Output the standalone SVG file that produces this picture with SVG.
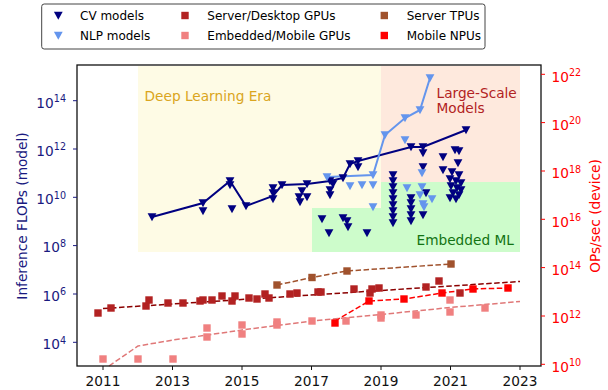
<svg xmlns="http://www.w3.org/2000/svg" xmlns:xlink="http://www.w3.org/1999/xlink" width="608" height="390" viewBox="0 0 608 390">
<style>
text{font-family:"DejaVu Sans","Liberation Sans",sans-serif;}
.tl{font-size:13.7px;}
.sup{font-size:9.6px;}
.lg{font-size:12px;fill:#000;}
.cv{fill:#000080;}
.nlp{fill:#6495ed;}
.sgpu{fill:#b22222;}
.egpu{fill:#f08080;}
.tpu{fill:#a0522d;}
.npu{fill:#ff0000;}
.dash{fill:none;stroke-width:1.5;stroke-dasharray:5.5 2.5;}
</style>
<defs>
<path id="tri" d="M-4.4,-3.8 L4.4,-3.8 L0,4.3 Z"/>
<rect id="sq" x="-3.7" y="-3.7" width="7.4" height="7.4"/>
</defs>
<rect width="608" height="390" fill="#fff"/>
<g id="regions">
<rect x="138" y="66" width="243" height="186" fill="#fefbe5"/>
<rect x="381" y="66" width="139" height="116" fill="#fee9dd"/>
<path d="M312,208 L381,208 L381,182 L520,182 L520,252 L312,252 Z" fill="#cdfccb"/>
<text x="144.5" y="101" class="tl" fill="#daa520">Deep Learning Era</text>
<text x="436.5" y="98" class="tl" fill="#b22222">Large-Scale</text>
<text x="436.5" y="113" class="tl" fill="#b22222">Models</text>
<text x="416.5" y="245" class="tl" fill="#137313">Embedded ML</text>
</g>
<g id="connectors">
<polyline class="dash" stroke="#8b0000" points="103,308.5 520,281.5"/>
<polyline class="dash" stroke="#a0522d" points="277,285 312,277.5 347,271 451,264"/>
<polyline class="dash" stroke="#ff0000" points="335,321 369,301 404,299 442,293 473,289 508,288"/>
<polyline class="dash" stroke="#e07878" points="109,366 138,346 173,340 242,330 312,321 381,314.5 450,307.5 520,301.5"/>
<polyline fill="none" stroke="#000080" stroke-width="2" points="152,217 203,203 230,181 246,206 273,196 282,185 307,184 330,181 343,178 350,164 358,161 411,147 423,147 466,130"/>
<polyline fill="none" stroke="#6495ed" stroke-width="2" points="327,177 373,175 385,135 405,118 420,110 430,78"/>
</g>
<g id="server-gpus" class="sgpu">
<use href="#sq" x="98" y="313"/><use href="#sq" x="111" y="308"/><use href="#sq" x="146" y="306"/><use href="#sq" x="149" y="300"/><use href="#sq" x="168" y="303"/><use href="#sq" x="183" y="303"/><use href="#sq" x="200" y="301"/><use href="#sq" x="203" y="300"/><use href="#sq" x="212" y="300"/><use href="#sq" x="222" y="296"/><use href="#sq" x="232" y="301"/><use href="#sq" x="235" y="296"/><use href="#sq" x="249" y="298"/><use href="#sq" x="257" y="299"/><use href="#sq" x="265" y="294"/><use href="#sq" x="269" y="298"/><use href="#sq" x="290" y="294"/><use href="#sq" x="297" y="293"/><use href="#sq" x="318" y="292"/><use href="#sq" x="321" y="292"/><use href="#sq" x="354" y="289"/><use href="#sq" x="370" y="293"/><use href="#sq" x="372" y="289"/><use href="#sq" x="379" y="288"/><use href="#sq" x="426" y="287"/><use href="#sq" x="439" y="281"/><use href="#sq" x="460" y="293"/>
</g>
<g id="server-tpus" class="tpu">
<use href="#sq" x="277" y="285"/><use href="#sq" x="312" y="277.5"/><use href="#sq" x="347" y="271"/><use href="#sq" x="451" y="264"/>
</g>
<g id="embedded-gpus" class="egpu">
<use href="#sq" x="103" y="359"/><use href="#sq" x="138" y="359"/><use href="#sq" x="173" y="359"/><use href="#sq" x="207" y="328"/><use href="#sq" x="207" y="337"/><use href="#sq" x="242" y="325"/><use href="#sq" x="242" y="334"/><use href="#sq" x="277" y="322"/><use href="#sq" x="277" y="325"/><use href="#sq" x="312" y="321"/><use href="#sq" x="346" y="321"/><use href="#sq" x="381" y="315"/><use href="#sq" x="381" y="318"/><use href="#sq" x="416" y="315"/><use href="#sq" x="450" y="300"/><use href="#sq" x="450" y="312"/><use href="#sq" x="485" y="308"/>
</g>
<g id="mobile-npus" class="npu">
<use href="#sq" x="335" y="323"/><use href="#sq" x="369" y="301"/><use href="#sq" x="404" y="299"/><use href="#sq" x="442" y="293"/><use href="#sq" x="473" y="289"/><use href="#sq" x="508" y="288"/>
</g>
<g id="cv-models" class="cv">
<use href="#tri" x="152" y="217"/><use href="#tri" x="203" y="203"/><use href="#tri" x="203" y="211"/><use href="#tri" x="230" y="181"/><use href="#tri" x="230" y="185"/><use href="#tri" x="232" y="209"/><use href="#tri" x="246" y="206"/><use href="#tri" x="273" y="188"/><use href="#tri" x="273" y="193"/><use href="#tri" x="273" y="199"/><use href="#tri" x="282" y="185"/><use href="#tri" x="299" y="197"/><use href="#tri" x="300" y="202"/><use href="#tri" x="302" y="191"/><use href="#tri" x="307" y="184"/><use href="#tri" x="307" y="197"/><use href="#tri" x="330" y="181"/><use href="#tri" x="330" y="190"/><use href="#tri" x="330" y="195"/><use href="#tri" x="333" y="184"/><use href="#tri" x="343" y="178"/><use href="#tri" x="350" y="164"/><use href="#tri" x="358" y="161"/><use href="#tri" x="358" y="167"/><use href="#tri" x="322" y="219"/><use href="#tri" x="329" y="233"/><use href="#tri" x="343" y="218"/><use href="#tri" x="347" y="221"/><use href="#tri" x="348" y="227"/><use href="#tri" x="367" y="233"/><use href="#tri" x="411" y="147"/><use href="#tri" x="423" y="147"/><use href="#tri" x="423" y="153"/><use href="#tri" x="423" y="167"/><use href="#tri" x="426" y="193"/><use href="#tri" x="423" y="215"/><use href="#tri" x="466" y="130"/>
<use href="#tri" x="393" y="175"/><use href="#tri" x="393" y="181"/><use href="#tri" x="393" y="187"/><use href="#tri" x="393" y="193"/><use href="#tri" x="393" y="199"/><use href="#tri" x="393" y="205"/><use href="#tri" x="393" y="211"/><use href="#tri" x="393" y="217"/><use href="#tri" x="393" y="223"/>
<use href="#tri" x="411" y="198"/><use href="#tri" x="411" y="203"/><use href="#tri" x="411" y="209"/><use href="#tri" x="411" y="215"/><use href="#tri" x="411" y="221"/>
<use href="#tri" x="443" y="157"/><use href="#tri" x="455" y="150"/><use href="#tri" x="459" y="151"/><use href="#tri" x="443" y="170"/><use href="#tri" x="458" y="163"/><use href="#tri" x="452" y="172"/><use href="#tri" x="459" y="175"/><use href="#tri" x="450" y="179"/><use href="#tri" x="456" y="181"/><use href="#tri" x="461" y="183"/><use href="#tri" x="451" y="186"/><use href="#tri" x="457" y="188"/><use href="#tri" x="461" y="190"/><use href="#tri" x="453" y="193"/><use href="#tri" x="459" y="195"/><use href="#tri" x="450" y="198"/><use href="#tri" x="456" y="199"/>
</g>
<g id="nlp-models" class="nlp">
<use href="#tri" x="327" y="177"/><use href="#tri" x="373" y="175"/><use href="#tri" x="385" y="135"/><use href="#tri" x="405" y="118"/><use href="#tri" x="420" y="110"/><use href="#tri" x="430" y="78"/><use href="#tri" x="350" y="186"/><use href="#tri" x="362" y="185"/><use href="#tri" x="373" y="185"/><use href="#tri" x="373" y="207"/><use href="#tri" x="405" y="140"/><use href="#tri" x="407" y="188"/><use href="#tri" x="422" y="173"/><use href="#tri" x="422" y="187"/><use href="#tri" x="420" y="195"/><use href="#tri" x="432" y="199"/><use href="#tri" x="423" y="204"/><use href="#tri" x="424" y="207"/>
</g>
<g id="axes">
<rect x="77" y="65" width="464" height="301" fill="none" stroke="#111" stroke-width="1.3"/>
<g stroke="#111" stroke-width="1">
<line x1="103" y1="366" x2="103" y2="370"/><line x1="172.5" y1="366" x2="172.5" y2="370"/><line x1="242" y1="366" x2="242" y2="370"/><line x1="311.5" y1="366" x2="311.5" y2="370"/><line x1="381" y1="366" x2="381" y2="370"/><line x1="450.5" y1="366" x2="450.5" y2="370"/><line x1="520" y1="366" x2="520" y2="370"/>
</g>
<g class="tl" fill="#111" text-anchor="middle">
<text x="103" y="386">2011</text><text x="172.5" y="386">2013</text><text x="242" y="386">2015</text><text x="311.5" y="386">2017</text><text x="381" y="386">2019</text><text x="450.5" y="386">2021</text><text x="520" y="386">2023</text>
</g>
<g stroke="#1a1a80" stroke-width="1">
<line x1="73" y1="100.7" x2="77" y2="100.7"/><line x1="73" y1="149" x2="77" y2="149"/><line x1="73" y1="197.3" x2="77" y2="197.3"/><line x1="73" y1="245.6" x2="77" y2="245.6"/><line x1="73" y1="294" x2="77" y2="294"/><line x1="73" y1="342.3" x2="77" y2="342.3"/>
</g>
<g class="tl" fill="#1a1a80" text-anchor="end">
<text x="66" y="107.5">10<tspan class="sup" dy="-5.5">14</tspan></text>
<text x="66" y="155.8">10<tspan class="sup" dy="-5.5">12</tspan></text>
<text x="66" y="204.1">10<tspan class="sup" dy="-5.5">10</tspan></text>
<text x="66" y="252.4">10<tspan class="sup" dy="-5.5">8</tspan></text>
<text x="66" y="300.8">10<tspan class="sup" dy="-5.5">6</tspan></text>
<text x="66" y="349.1">10<tspan class="sup" dy="-5.5">4</tspan></text>
</g>
<text transform="translate(27,216) rotate(-90)" class="tl" fill="#1a1a80" text-anchor="middle">Inference FLOPs (model)</text>
<g stroke="#ff0000" stroke-width="1">
<line x1="541" y1="74.3" x2="545" y2="74.3"/><line x1="541" y1="122.6" x2="545" y2="122.6"/><line x1="541" y1="171" x2="545" y2="171"/><line x1="541" y1="219.3" x2="545" y2="219.3"/><line x1="541" y1="267.6" x2="545" y2="267.6"/><line x1="541" y1="316" x2="545" y2="316"/><line x1="541" y1="364.3" x2="545" y2="364.3"/>
</g>
<g class="tl" fill="#ff0000">
<text x="551.5" y="81.5">10<tspan class="sup" dy="-5.5">22</tspan></text>
<text x="551.5" y="129.8">10<tspan class="sup" dy="-5.5">20</tspan></text>
<text x="551.5" y="178.2">10<tspan class="sup" dy="-5.5">18</tspan></text>
<text x="551.5" y="226.5">10<tspan class="sup" dy="-5.5">16</tspan></text>
<text x="551.5" y="274.8">10<tspan class="sup" dy="-5.5">14</tspan></text>
<text x="551.5" y="323.2">10<tspan class="sup" dy="-5.5">12</tspan></text>
<text x="551.5" y="371.5">10<tspan class="sup" dy="-5.5">10</tspan></text>
</g>
<text transform="translate(600,216) rotate(-90)" class="tl" fill="#ff0000" text-anchor="middle">OPs/sec (device)</text>
</g>
<g id="legend">
<rect x="41.7" y="4" width="443.3" height="45" rx="2.5" fill="#fff" stroke="#444" stroke-width="1"/>
<use href="#tri" x="58.3" y="15.5" class="cv"/>
<use href="#tri" x="58.3" y="35.5" class="nlp"/>
<use href="#sq" x="185" y="15.5" class="sgpu"/>
<use href="#sq" x="185" y="35.5" class="egpu"/>
<use href="#sq" x="384.3" y="15.5" class="tpu"/>
<use href="#sq" x="384.3" y="35.5" class="npu"/>
<text class="lg" x="80" y="20.3">CV models</text>
<text class="lg" x="80" y="40.3">NLP models</text>
<text class="lg" x="207.3" y="20.3">Server/Desktop GPUs</text>
<text class="lg" x="207.3" y="40.3">Embedded/Mobile GPUs</text>
<text class="lg" x="406.7" y="20.3">Server TPUs</text>
<text class="lg" x="406.7" y="40.3">Mobile NPUs</text>
</g>
</svg>
